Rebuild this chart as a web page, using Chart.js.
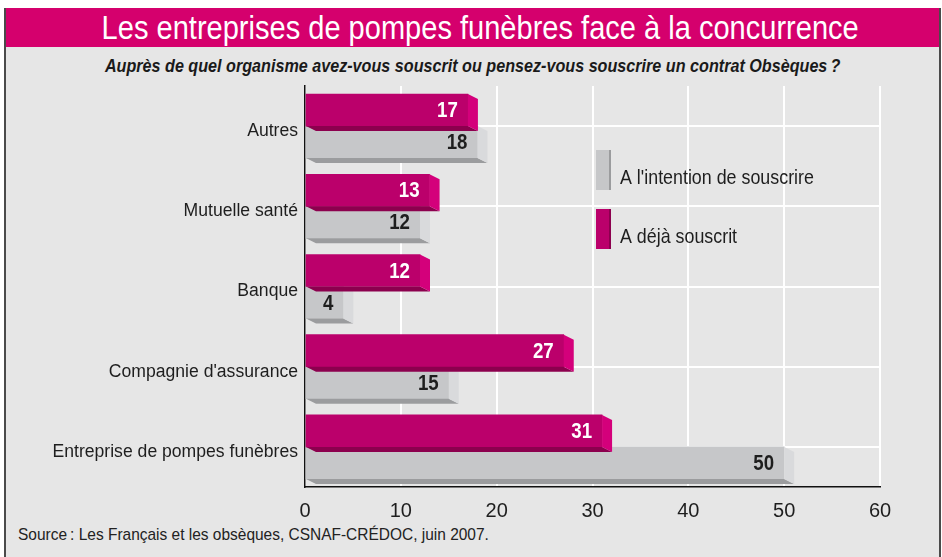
<!DOCTYPE html>
<html lang="fr">
<head>
<meta charset="utf-8">
<title>Les entreprises de pompes funèbres face à la concurrence</title>
<script src="https://cdn.jsdelivr.net/npm/chart.js@4.4.1/dist/chart.umd.min.js"></script>
<style>
  html, body { margin: 0; padding: 0; background: #fff; }
  body {
    width: 942px; height: 557px; position: relative; overflow: hidden;
    font-family: "Liberation Sans", Arial, sans-serif;
  }
  .cadre {
    position: absolute; left: 4px; top: 8px; width: 933px; height: 560px;
    background: #e6e6e6; border-left: 2px solid #4a4a4a; border-right: 2px solid #4a4a4a;
  }
  .titre {
    position: absolute; left: 0; top: 0; right: 0; height: 39px;
    background: #d5006d; color: #fff; font-size: 33px; line-height: 39px;
    text-align: center; padding-left: 16px; white-space: nowrap;
  }
  .titre span { display: inline-block; transform: scaleX(0.88); }
  .sous-titre {
    position: absolute; left: 0; right: 0; top: 47px; text-align: center;
    font-size: 19px; font-style: italic; font-weight: bold; color: #1a1a1a;
    white-space: nowrap;
  }
  .sous-titre span { display: inline-block; transform: scaleX(0.85); }
  .source {
    position: absolute; left: 12px; top: 517px; font-size: 17px; color: #222;
    white-space: nowrap; transform: scaleX(0.91); transform-origin: left center;
  }
  #graphique { position: absolute; left: 0; top: 0; }
</style>
</head>
<body>
<div class="cadre">
  <div class="titre"><span>Les entreprises de pompes funèbres face à la concurrence</span></div>
  <div class="sous-titre"><span>Auprès de quel organisme avez-vous souscrit ou pensez-vous souscrire un contrat Obsèques&#8239;?</span></div>
  <div class="source">Source&#8239;: Les Français et les obsèques, CSNAF-CRÉDOC, juin 2007.</div>
</div>
<canvas id="graphique" width="942" height="557"></canvas>
<script>
// données (en %)
const categories = ['Autres', 'Mutuelle santé', 'Banque', "Compagnie d'assurance", 'Entreprise de pompes funèbres'];
const dejaSouscrit = [17, 13, 12, 27, 31];
const intentionSouscrire = [18, 12, 4, 15, 50];
const axeMin = 0;
const axeMax = 60;
const axePas = 10;

const police = '"Liberation Sans", Arial, sans-serif';
const serrage = 0.85; // imite la police étroite de l'original

// couleurs : face avant, côté, dessous
const teintes = [
    { face: '#bb006b', cote: '#d4007b', dessous: '#8c004e', texte: '#ffffff' },
    { face: '#c6c7c9', cote: '#d9dadc', dessous: '#9b9c9e', texte: '#1e1e1e' }
];

const PROF_X = 10;
const PROF_Y = 5;

// texte resserré horizontalement
function texteEtroit(ctx, txt, x, y) {
    ctx.save();
    ctx.translate(x, y);
    ctx.scale(serrage, 1);
    ctx.fillText(txt, 0, 0);
    ctx.restore();
}

// effet 3D : côté droit et dessous de chaque barre
const relief = {
    id: 'relief',
    afterDatasetDraw(chart, args) {
        const ctx = chart.ctx;
        const t = teintes[args.index];
        args.meta.data.forEach(bar => {
            const { x, y, base, height } = bar.getProps(['x', 'y', 'base', 'height'], true);
            const y0 = y - height / 2;
            const y1 = y + height / 2;
            ctx.save();
            ctx.fillStyle = t.dessous;
            ctx.beginPath();
            ctx.moveTo(base, y1);
            ctx.lineTo(x, y1);
            ctx.lineTo(x + PROF_X, y1 + PROF_Y);
            ctx.lineTo(base + PROF_X, y1 + PROF_Y);
            ctx.closePath();
            ctx.fill();
            ctx.fillStyle = t.cote;
            ctx.beginPath();
            ctx.moveTo(x, y0);
            ctx.lineTo(x + PROF_X, y0 + PROF_Y);
            ctx.lineTo(x + PROF_X, y1 + PROF_Y);
            ctx.lineTo(x, y1);
            ctx.closePath();
            ctx.fill();
            ctx.restore();
        });
    },
    afterDatasetsDraw(chart) {
        const ctx = chart.ctx;
        ctx.save();
        ctx.font = 'bold 22px ' + police;
        ctx.textAlign = 'right';
        ctx.textBaseline = 'middle';
        chart.data.datasets.forEach((ds, i) => {
            const meta = chart.getDatasetMeta(i);
            ctx.fillStyle = teintes[i].texte;
            meta.data.forEach((bar, j) => {
                const { x, y } = bar.getProps(['x', 'y'], true);
                texteEtroit(ctx, String(ds.data[j]), x - 10, y + 1);
            });
        });
        ctx.restore();
    }
};

// légende placée dans la zone du graphique
const legende = {
    id: 'legende',
    afterDraw(chart) {
        const ctx = chart.ctx;
        const area = chart.chartArea;
        const gx = area.left + 291;
        const ordre = [1, 0];
        ctx.save();
        ctx.font = '21px ' + police;
        ctx.textBaseline = 'middle';
        ordre.forEach((i, k) => {
            const gy = area.top + 64 + k * 59;
            ctx.fillStyle = teintes[i].face;
            ctx.fillRect(gx, gy, 14, 40);
            ctx.fillStyle = teintes[i].dessous;
            ctx.fillRect(gx + 13, gy, 2, 40);
            ctx.fillStyle = '#1e1e1e';
            texteEtroit(ctx, chart.data.datasets[i].label, gx + 24, gy + 28);
        });
        ctx.restore();
    }
};

new Chart(document.getElementById('graphique'), {
    type: 'bar',
    data: {
        labels: categories,
        datasets: [
            {
                label: 'A déjà souscrit',
                data: dejaSouscrit,
                backgroundColor: teintes[0].face,
                borderWidth: 0,
                barThickness: 32
            },
            {
                label: "A l'intention de souscrire",
                data: intentionSouscrire,
                backgroundColor: teintes[1].face,
                borderWidth: 0,
                barThickness: 32
            }
        ]
    },
    options: {
        indexAxis: 'y',
        responsive: false,
        animation: false,
        layout: { padding: { top: 86, right: 62, left: 0, bottom: 0 } },
        plugins: {
            legend: { display: false },
            tooltip: { enabled: false }
        },
        scales: {
            x: {
                min: axeMin,
                max: axeMax,
                ticks: { stepSize: axePas, color: '#1e1e1e', font: { family: police, size: 20 }, padding: 12 },
                grid: { color: '#ffffff', lineWidth: 2, drawTicks: false },
                border: { color: '#111', width: 1.5 },
                afterFit(scale) { scale.height = 70; }
            },
            y: {
                ticks: { color: '#1e1e1e', font: { family: police, size: 17.6 }, padding: 7, labelOffset: 5 },
                grid: { color: '#ffffff', lineWidth: 2, drawTicks: false, offset: false },
                border: { color: '#111', width: 1.5 },
                afterFit(scale) { scale.width = 305; }
            }
        }
    },
    plugins: [relief, legende]
});
</script>
</body>
</html>
